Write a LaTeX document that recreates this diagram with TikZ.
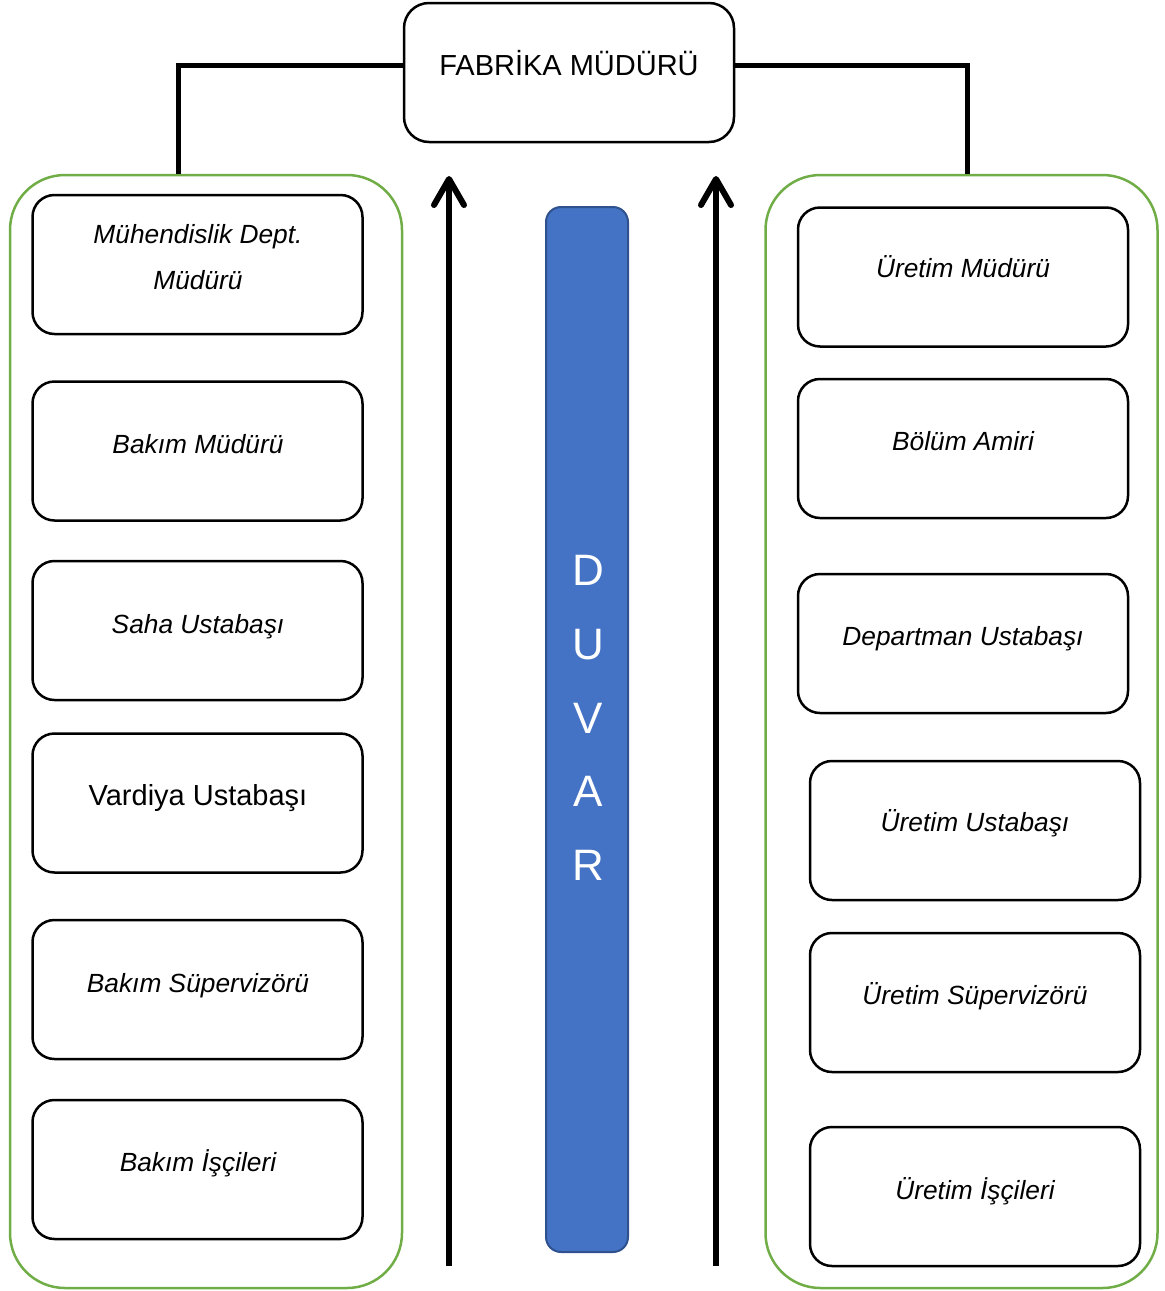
\documentclass[tikz,border=0pt]{standalone}
\usepackage{fontspec}
\setmainfont{Liberation Sans}
\usetikzlibrary{arrows.meta}
\definecolor{grp}{HTML}{70AD47}
\definecolor{wallfill}{HTML}{4472C4}
\definecolor{walledge}{HTML}{2F528F}
\tikzset{
  card/.style={draw, line width=2.5pt, rounded corners=22pt, minimum width=330pt,
    minimum height=139pt, inner sep=0pt, fill=white},
  group/.style={draw=grp, line width=2.5pt, rounded corners=55pt, minimum width=392pt,
    minimum height=1113pt, inner sep=0pt},
  link/.style={line width=5pt},
  upflow/.style={line width=6pt, -{Straight Barb[length=26pt,width=30pt,round]}},
  role/.style={anchor=base, inner sep=0pt, font=\fontsize{26.3pt}{31pt}\selectfont\itshape},
  rolebig/.style={anchor=base, inner sep=0pt, font=\fontsize{29pt}{34pt}\selectfont},
  wall/.style={draw=walledge, fill=wallfill, line width=2pt, rounded corners=15pt,
    minimum width=82pt, minimum height=1045pt, inner sep=0pt},
  wallletter/.style={anchor=base, inner sep=0pt, text=white, font=\fontsize{44pt}{50pt}\selectfont}
}
\begin{document}
\begin{tikzpicture}[x=1pt,y=-1pt]
\useasboundingbox (0,0) rectangle (1165,1291);

% top manager
\node[card, rounded corners=25pt] (top) at (569,72.5) {};
\node[rolebig] (toptext) at (569,75) {FABRİKA MÜDÜRÜ};

% two departments
\node[group] (lgrp) at (206,731.5) {};
\node[group] (rgrp) at (961.5,731.5) {};

\draw[link] ([yshift=7.5pt]top.west) -| ([xshift=-28pt]lgrp.north);
\draw[link] ([yshift=7.5pt]top.east) -| ([xshift=5.5pt]rgrp.north);

% maintenance side
\node[card] (l1) at (197.5,264.5) {};
\node[card] (l2) at (197.5,451) {};
\node[card] (l3) at (197.5,630.5) {};
\node[card] (l4) at (197.5,803) {};
\node[card] (l5) at (197.5,989.5) {};
\node[card] (l6) at (197.5,1169.5) {};

\node[role] (l1a) at (198,243) {Mühendislik Dept.};
\node[role] (l1b) at (198,289) {Müdürü};
\node[role] (l2t) at (198,453) {Bakım Müdürü};
\node[role] (l3t) at (198,633) {Saha Ustabaşı};
\node[rolebig] (l4t) at (198,805) {Vardiya Ustabaşı};
\node[role] (l5t) at (198,992) {Bakım Süpervizörü};
\node[role] (l6t) at (198,1171) {Bakım İşçileri};

% production side
\node[card] (r1) at (963,277) {};
\node[card] (r2) at (963,448.5) {};
\node[card] (r3) at (963,643.5) {};
\node[card] (r4) at (975,830.5) {};
\node[card] (r5) at (975,1002.5) {};
\node[card] (r6) at (975,1196.5) {};

\node[role] (r1t) at (963,277) {Üretim Müdürü};
\node[role] (r2t) at (963,450) {Bölüm Amiri};
\node[role] (r3t) at (963,645) {Departman Ustabaşı};
\node[role] (r4t) at (975,831) {Üretim Ustabaşı};
\node[role] (r5t) at (975,1004) {Üretim Süpervizörü};
\node[role] (r6t) at (975,1199) {Üretim İşçileri};

% the wall between them
\node[wall] (wall) at (587,729.5) {};
\node[wallletter] (wd) at (588,585) {D};
\node[wallletter] (wu) at (588,659) {U};
\node[wallletter] (wv) at (588,733) {V};
\node[wallletter] (wa) at (588,806) {A};
\node[wallletter] (wr) at (588,880) {R};

% upward flows
\coordinate (lfoot) at (449,1266);
\coordinate (lhead) at (449,176);
\coordinate (rfoot) at (716,1266);
\coordinate (rhead) at (716,176);
\draw[upflow] (lfoot) -- (lhead);
\draw[upflow] (rfoot) -- (rhead);
\end{tikzpicture}
\end{document}
